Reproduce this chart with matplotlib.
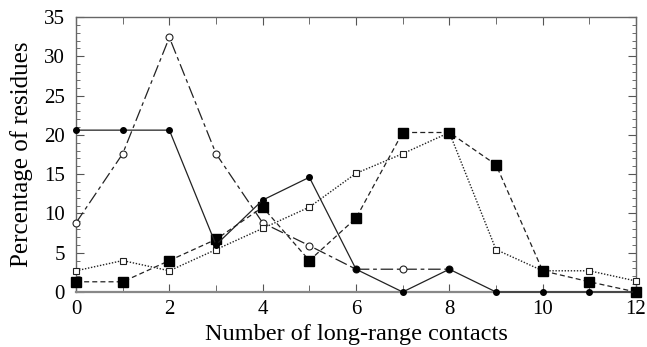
import numpy as np
import matplotlib
matplotlib.use("Agg")
import matplotlib.pyplot as plt
from matplotlib.ticker import MultipleLocator

plt.rcParams['font.family'] = ['Liberation Serif', 'DejaVu Serif']

# ---------------------------
# Data
# ---------------------------
contacts = np.arange(0, 13)
contacts_circ = np.arange(0, 9)

filled_circles = [20.6, 20.6, 20.6, 6.0, 11.7, 14.6, 2.9, 0.0, 2.9, 0.0, 0.0, 0.0, 0.0]
open_circles = [8.8, 17.6, 32.4, 17.6, 8.8, 5.9, 2.9, 2.9, 2.9]
open_squares = [2.7, 4.0, 2.7, 5.4, 8.1, 10.8, 15.1, 17.6, 20.3, 5.4, 2.7, 2.7, 1.4]
filled_squares = [1.3, 1.3, 4.0, 6.7, 10.8, 4.0, 9.4, 20.3, 20.3, 16.2, 2.7, 1.3, 0.0]

x_ticks = [0, 2, 4, 6, 8, 10, 12]
y_ticks = [0, 5, 10, 15, 20, 25, 30, 35]

# ---------------------------
# Figure
# ---------------------------
fig = plt.figure(figsize=(6.47, 3.47), dpi=100)
ax = fig.add_axes([0.1175, 0.1585, 0.8655, 0.7925])

lc = "#222222"
ax.plot(contacts_circ, open_circles, color=lc, lw=0.9, dashes=(10, 3, 3, 3),
        marker='o', ms=5, mfc='white', mec=lc, mew=0.8, clip_on=False, zorder=3)
ax.plot(contacts, open_squares, color=lc, lw=1.0, linestyle=(0, (1, 1.2)),
        marker='s', ms=5, mfc='white', mec=lc, mew=0.8, clip_on=False, zorder=3)
ax.plot(contacts, filled_squares, color=lc, lw=0.9, dashes=(4, 2.5),
        marker='s', ms=7, mfc='black', mec='black', clip_on=False, zorder=4)
ax.plot(contacts, filled_circles, color=lc, lw=0.9, linestyle='-',
        marker='o', ms=4, mfc='black', mec='black', clip_on=False, zorder=5)

ax.set_xlim(0, 12)
ax.set_ylim(0, 35)
ax.set_xticks(x_ticks)
ax.set_yticks(y_ticks)
ax.xaxis.set_minor_locator(MultipleLocator(1))
ax.yaxis.set_minor_locator(MultipleLocator(1))
ax.tick_params(which='both', direction='in', top=True, right=True,
               labelsize=15, color='#555555')
ax.tick_params(axis='x', pad=6)
ax.tick_params(axis='y', pad=8)
ax.tick_params(which='major', length=6)
ax.tick_params(which='minor', length=3)
ax.tick_params(axis='x', which='minor', length=5)

for s in ax.spines.values():
    s.set_color('#666666')
    s.set_linewidth(1.0)
ax.spines['bottom'].set_linewidth(1.6)
ax.spines['bottom'].set_color('#888888')

ax.set_xlabel("Number of long-range contacts", fontsize=17.5, labelpad=3.5)
ax.set_ylabel("Percentage of residues", fontsize=18, labelpad=8)

fig.savefig("out.png", dpi=100)
